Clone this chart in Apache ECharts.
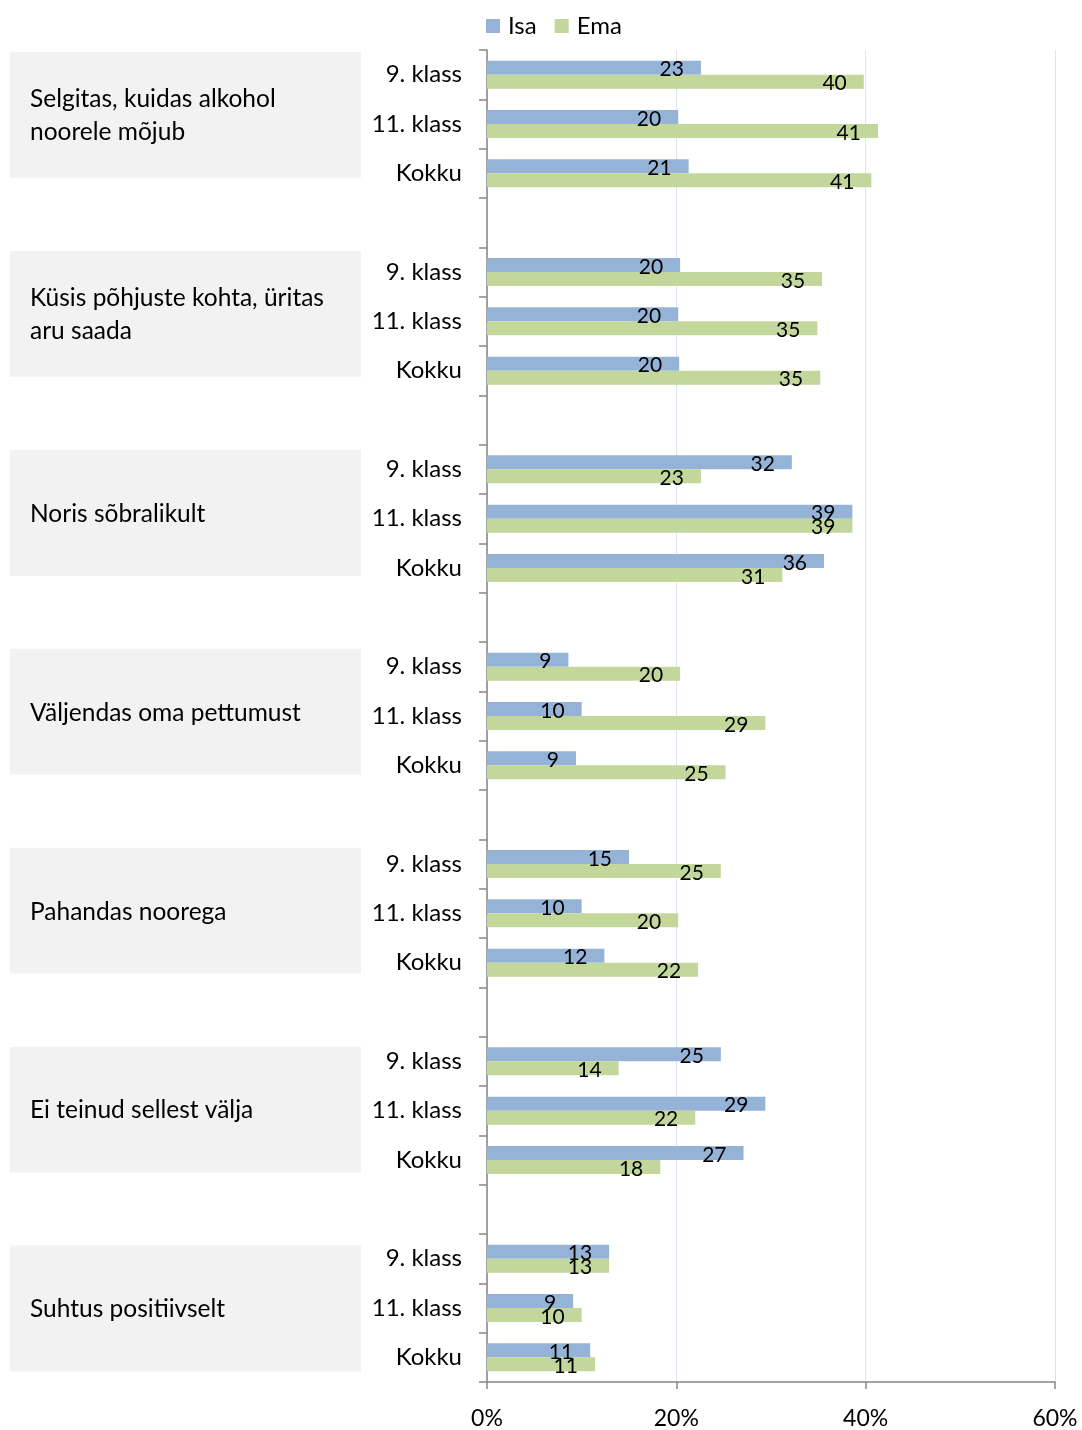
<!DOCTYPE html>
<html><head><meta charset="utf-8">
<script src="https://cdn.jsdelivr.net/npm/echarts@6/dist/echarts.min.js"></script>
<style>html,body{margin:0;padding:0;background:#fff}#c{width:1082px;height:1430px}</style>
</head><body><div id="c"></div>
<script>
const groups = [
  'Selgitas, kuidas alkohol\nnoorele mõjub',
  'Küsis põhjuste kohta, üritas\naru saada',
  'Noris sõbralikult',
  'Väljendas oma pettumust',
  'Pahandas noorega',
  'Ei teinud sellest välja',
  'Suhtus positiivselt'
];
const classes = ['9. klass', '11. klass', 'Kokku'];
const isaValues = [
  [22.6, 20.2, 21.3],
  [20.4, 20.2, 20.3],
  [32.2, 38.6, 35.6],
  [8.6, 10.0, 9.4],
  [15.0, 10.0, 12.4],
  [24.7, 29.4, 27.1],
  [12.9, 9.1, 10.9]
];
const emaValues = [
  [39.8, 41.3, 40.6],
  [35.4, 34.9, 35.2],
  [22.6, 38.6, 31.2],
  [20.4, 29.4, 25.2],
  [24.7, 20.2, 22.3],
  [13.9, 22.0, 18.3],
  [12.9, 10.0, 11.4]
];
const xTickValues = [0, 20, 40, 60];
const seriesNames = ['Isa', 'Ema'];

const FONT = 'Lato';
const cats = [], isaData = [], emaData = [];
groups.forEach((g, gi) => {
  classes.forEach((c, ci) => {
    cats.push(c);
    isaData.push(isaValues[gi][ci]);
    emaData.push(emaValues[gi][ci]);
  });
  if (gi < groups.length - 1) { cats.push(''); isaData.push(null); emaData.push(null); }
});

const chart = echarts.init(document.getElementById('c'), null, {renderer: 'canvas'});
const labelCfg = {
  show: true, position: 'insideRight', distance: 17, offset: [0, 2],
  color: '#000', fontSize: 21, fontFamily: FONT,
  formatter: p => p.value == null ? '' : String(Math.round(p.value))
};
chart.setOption({
  animation: false,
  textStyle: {fontFamily: FONT},
  legend: {
    top: 9, left: 481, itemWidth: 14, itemHeight: 14, itemGap: 18,
    icon: 'rect',
    textStyle: {fontSize: 24, color: '#000', fontFamily: FONT, padding: [0, 0, 0, 3]},
    data: seriesNames
  },
  grid: {left: 487, right: 27, top: 50, bottom: 48, containLabel: false},
  xAxis: {
    type: 'value', min: xTickValues[0], max: xTickValues[xTickValues.length - 1], interval: 20,
    axisLine: {show: true, lineStyle: {color: '#868686', width: 1.5}},
    axisTick: {show: true, length: 7, lineStyle: {color: '#868686', width: 1.5}},
    axisLabel: {formatter: '{value}%', fontSize: 23, color: '#000', margin: 25, fontFamily: FONT},
    splitLine: {show: true, lineStyle: {color: '#dce4ef', width: 1}}
  },
  yAxis: {
    type: 'category', inverse: true, data: cats,
    axisLine: {show: true, lineStyle: {color: '#868686', width: 1.5}},
    axisTick: {show: true, length: 8, alignWithLabel: false, interval: 0, lineStyle: {color: '#868686', width: 1.5}},
    axisLabel: {fontSize: 24, color: '#000', margin: 25, interval: 0, fontFamily: FONT}
  },
  series: [
    {name: seriesNames[0], type: 'bar', data: isaData, barWidth: 14, barGap: '0%',
     itemStyle: {color: '#95b3d7'}, label: labelCfg},
    {name: seriesNames[1], type: 'bar', data: emaData, barWidth: 14, barGap: '0%',
     itemStyle: {color: '#c3d69b'}, label: labelCfg}
  ]
});

const graphics = [];
const firstCat = chart.convertToPixel({yAxisIndex: 0}, 0);
const slot = chart.convertToPixel({yAxisIndex: 0}, 1) - firstCat;
const boxStep = slot * 4 + 1.6;
const boxHeight = slot * 2.55;
groups.forEach((g, gi) => {
  const top = firstCat - slot / 2 + 2 + gi * boxStep;
  graphics.push({type: 'rect', shape: {x: 10, y: top, width: 351, height: boxHeight},
    style: {fill: '#f2f2f2'}, silent: true});
  graphics.push({type: 'text', x: 30, y: top + boxHeight / 2 + 1,
    style: {text: g, fontSize: 24.5, fontFamily: FONT, fill: '#000', align: 'left', verticalAlign: 'middle', lineHeight: 33},
    silent: true});
});
chart.setOption({graphic: graphics});
</script>
</body></html>
